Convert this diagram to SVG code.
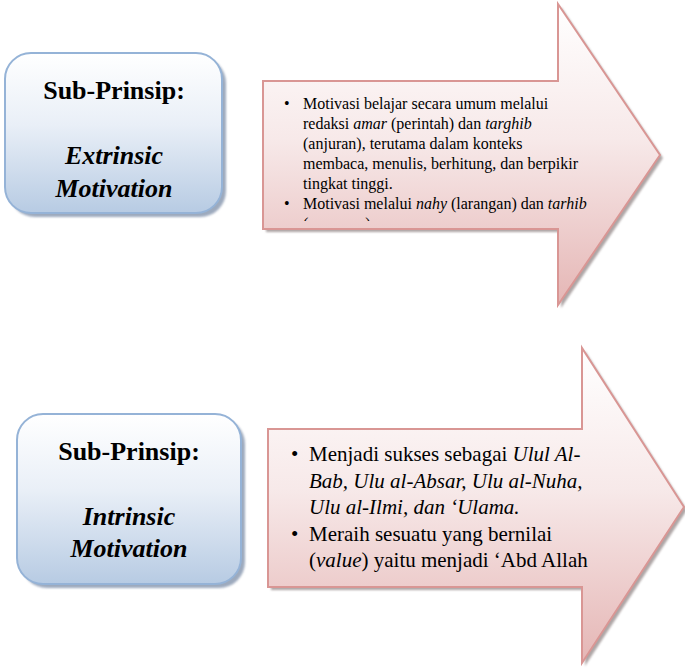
<svg xmlns="http://www.w3.org/2000/svg" width="685" height="670" viewBox="0 0 685 670">
  <defs>
    <linearGradient id="gradBlue" x1="0" y1="0" x2="0" y2="1">
      <stop offset="0" stop-color="#ffffff"/>
      <stop offset="0.45" stop-color="#e9eff7"/>
      <stop offset="1" stop-color="#b7cbe3"/>
    </linearGradient>
    <linearGradient id="gradPink" x1="0" y1="0" x2="0" y2="1">
      <stop offset="0" stop-color="#ffffff"/>
      <stop offset="0.45" stop-color="#f7e9e9"/>
      <stop offset="1" stop-color="#e5b6b5"/>
    </linearGradient>
    <filter id="soft" x="-5%" y="-5%" width="110%" height="110%">
      <feGaussianBlur stdDeviation="1"/>
    </filter>
    <clipPath id="clipText1">
      <rect x="263" y="81" width="400" height="140"/>
    </clipPath>
  </defs>
  <style>
    .box { fill: url(#gradBlue); stroke: #95b3d7; stroke-width: 2; }
    .boxShadow { fill: #7d8ea8; opacity: 0.75; }
    .arrow { fill: url(#gradPink); stroke: #d99694; stroke-width: 2; stroke-linejoin: miter; }
    .arrowShadow { fill: #8c8080; opacity: 0.7; }
    text { font-family: 'Times New Roman', 'Liberation Serif', Tinos, 'Nimbus Roman', 'Nimbus Roman No9 L', 'Noto Serif', 'DejaVu Serif', FreeSerif, Times, serif; fill: #000; }
    .title { font-size: 26px; font-weight: bold; text-anchor: middle; }
    .titleIt { font-style: italic; }
    .small { font-size: 16px; }
    .large { font-size: 21px; }
    .it { font-style: italic; }
  </style>

  <!-- Box: extrinsic motivation -->
  <g id="box-extrinsic">
    <rect class="boxShadow" x="9" y="57" width="217" height="160" rx="26" filter="url(#soft)"/>
    <rect class="box" x="5" y="53" width="217" height="160" rx="26"/>
    <text class="title" x="114" y="99">Sub-Prinsip:</text>
    <text class="title titleIt" x="114" y="164">Extrinsic</text>
    <text class="title titleIt" x="114" y="197">Motivation</text>
  </g>

  <!-- Arrow: extrinsic motivation details -->
  <g id="arrow-extrinsic">
    <path class="arrowShadow" d="M266,84 H561 V7 L663,158 L561,308 V232 H266 Z" filter="url(#soft)"/>
    <path class="arrow" d="M263,81 H558 V4 L660,155 L558,305 V229 H263 Z"/>
    <g clip-path="url(#clipText1)">
      <text class="small" x="284" y="108.5">•</text>
      <text class="small" x="303" y="108.5">Motivasi belajar secara umum melalui</text>
      <text class="small" x="303" y="128.5">redaksi <tspan class="it">amar</tspan> (perintah) dan <tspan class="it">targhib</tspan></text>
      <text class="small" x="303" y="148.5">(anjuran), terutama dalam konteks</text>
      <text class="small" x="303" y="168.5">membaca, menulis, berhitung, dan berpikir</text>
      <text class="small" x="303" y="188.5">tingkat tinggi.</text>
      <text class="small" x="284" y="208.5">•</text>
      <text class="small" x="303" y="208.5">Motivasi melalui <tspan class="it">nahy</tspan> (larangan) dan <tspan class="it">tarhib</tspan></text>
      <text class="small" x="303" y="228.5">(ancaman).</text>
    </g>
  </g>

  <!-- Box: intrinsic motivation -->
  <g id="box-intrinsic">
    <rect class="boxShadow" x="21" y="418" width="224" height="170" rx="26" filter="url(#soft)"/>
    <rect class="box" x="17" y="414" width="224" height="170" rx="26"/>
    <text class="title" x="129" y="459.5">Sub-Prinsip:</text>
    <text class="title titleIt" x="129" y="525">Intrinsic</text>
    <text class="title titleIt" x="129" y="557">Motivation</text>
  </g>

  <!-- Arrow: intrinsic motivation details -->
  <g id="arrow-intrinsic">
    <path class="arrowShadow" d="M271,432 H585 V351 L687,510 L585,666 V590 H271 Z" filter="url(#soft)"/>
    <path class="arrow" d="M268,429 H582 V348 L684,507 L582,663 V587 H268 Z"/>
    <text class="large" x="291" y="461">•</text>
    <text class="large" x="309" y="461">Menjadi sukses sebagai <tspan class="it">Ulul Al-</tspan></text>
    <text class="large it" x="309" y="487.5">Bab, Ulu al-Absar, Ulu al-Nuha,</text>
    <text class="large it" x="309" y="514">Ulu al-Ilmi, dan ‘Ulama.</text>
    <text class="large" x="291" y="540.5">•</text>
    <text class="large" x="309" y="540.5">Meraih sesuatu yang bernilai</text>
    <text class="large" x="309" y="567">(<tspan class="it">value</tspan>) yaitu menjadi ‘Abd Allah</text>
  </g>

  <g id="connectors"/>
</svg>
